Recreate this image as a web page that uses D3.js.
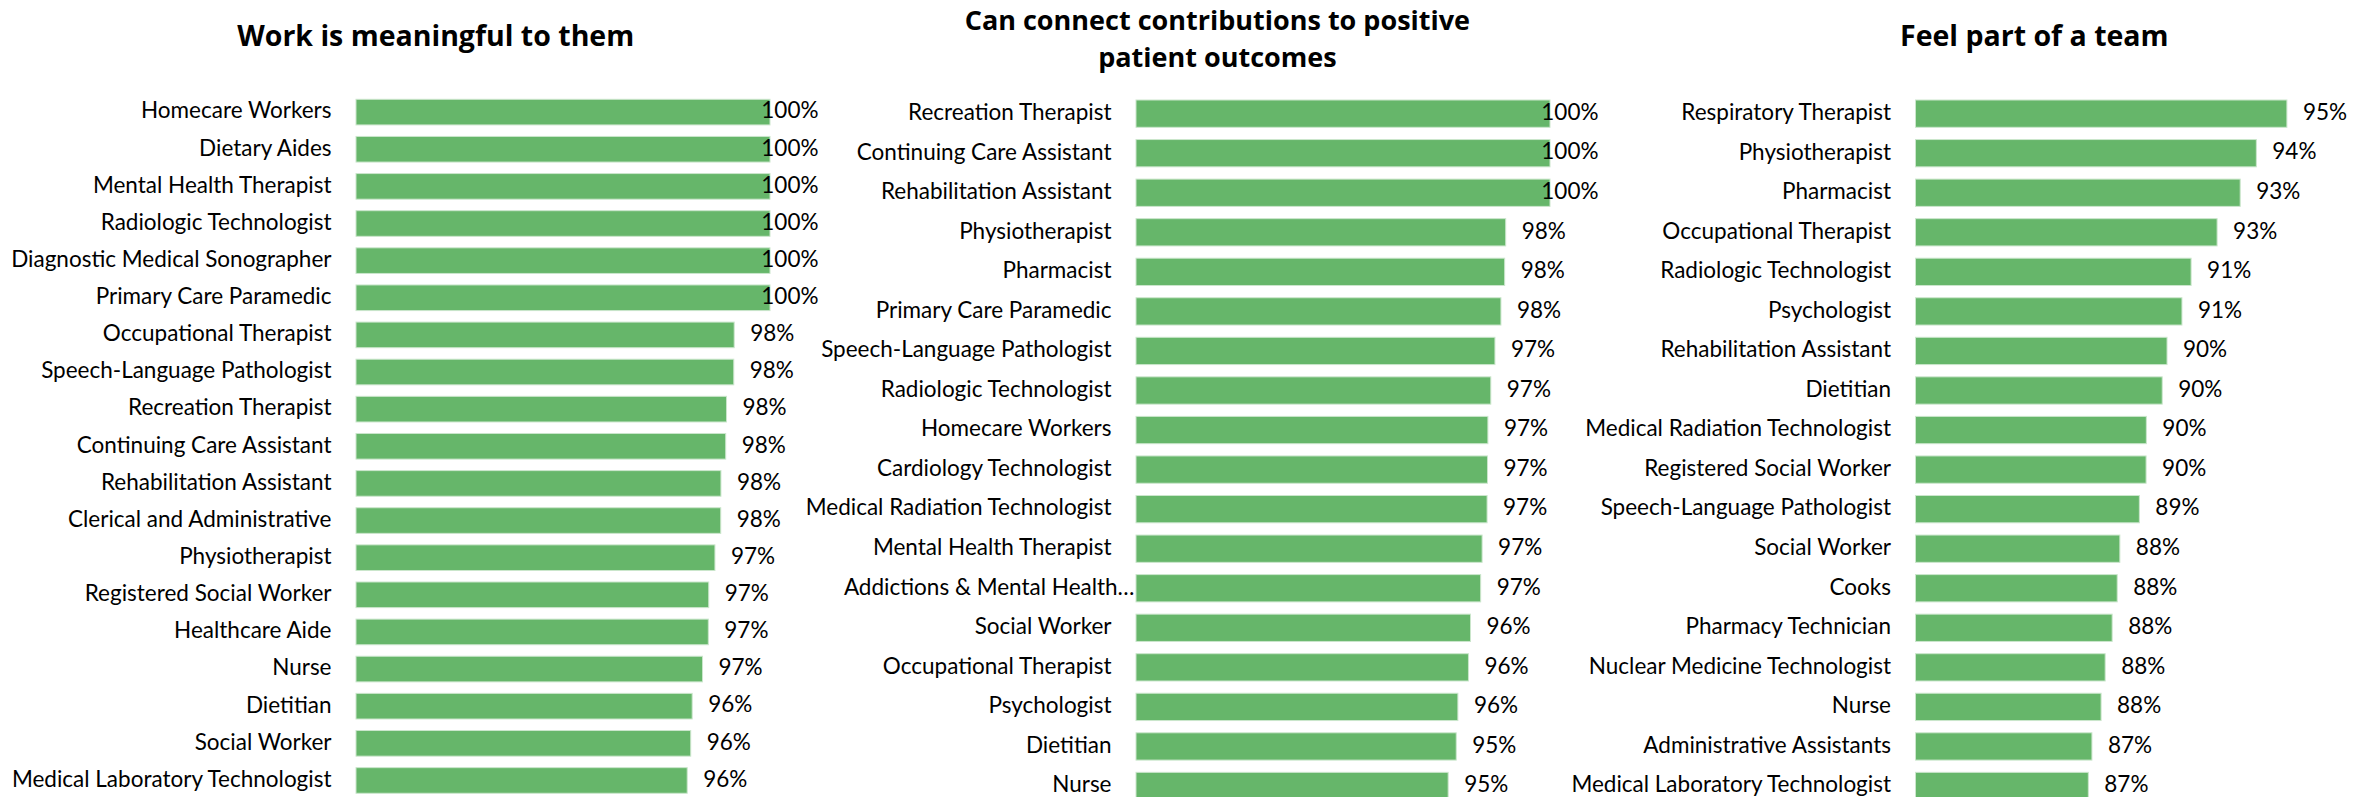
<!DOCTYPE html>
<html>
<head>
<meta charset="utf-8">
<script src="https://cdn.jsdelivr.net/npm/d3@7"></script>
<style>
  html, body { margin: 0; padding: 0; background: #ffffff; }
  svg { display: block; }
</style>
</head>
<body>
<svg id="chart" width="2371" height="797"></svg>
<script>
// ---- Data -------------------------------------------------------------
const meaningfulCategories = [
  "Homecare Workers", "Dietary Aides", "Mental Health Therapist", "Radiologic Technologist",
  "Diagnostic Medical Sonographer", "Primary Care Paramedic", "Occupational Therapist",
  "Speech-Language Pathologist", "Recreation Therapist", "Continuing Care Assistant",
  "Rehabilitation Assistant", "Clerical and Administrative", "Physiotherapist",
  "Registered Social Worker", "Healthcare Aide", "Nurse", "Dietitian", "Social Worker",
  "Medical Laboratory Technologist"
];
const meaningfulValues = [
  1.000, 1.000, 1.000, 1.000, 1.000, 1.000, 0.9827, 0.9825, 0.9790, 0.9786,
  0.9763, 0.9762, 0.9734, 0.9704, 0.9702, 0.9674, 0.9624, 0.9617, 0.9600
];

const outcomesCategories = [
  "Recreation Therapist", "Continuing Care Assistant", "Rehabilitation Assistant",
  "Physiotherapist", "Pharmacist", "Primary Care Paramedic", "Speech-Language Pathologist",
  "Radiologic Technologist", "Homecare Workers", "Cardiology Technologist",
  "Medical Radiation Technologist", "Mental Health Therapist", "Addictions & Mental Health…",
  "Social Worker", "Occupational Therapist", "Psychologist", "Dietitian", "Nurse"
];
const outcomesValues = [
  1.000, 1.000, 1.000, 0.9786, 0.9781, 0.9763, 0.9734, 0.9714, 0.9700, 0.9698,
  0.9696, 0.9672, 0.9665, 0.9616, 0.9606, 0.9555, 0.9547, 0.9508
];

const teamCategories = [
  "Respiratory Therapist", "Physiotherapist", "Pharmacist", "Occupational Therapist",
  "Radiologic Technologist", "Psychologist", "Rehabilitation Assistant", "Dietitian",
  "Medical Radiation Technologist", "Registered Social Worker", "Speech-Language Pathologist",
  "Social Worker", "Cooks", "Pharmacy Technician", "Nuclear Medicine Technologist", "Nurse",
  "Administrative Assistants", "Medical Laboratory Technologist"
];
const teamValues = [
  0.9543, 0.9416, 0.9349, 0.9253, 0.9145, 0.9107, 0.9045, 0.9025, 0.8959, 0.8958,
  0.8930, 0.8849, 0.8838, 0.8817, 0.8788, 0.8771, 0.8733, 0.8718
];

const panelTitles = [
  ["Work is meaningful to them"],
  ["Can connect contributions to positive", "patient outcomes"],
  ["Feel part of a team"]
];

// value axis bounds of each panel (axis starts at 80%)
const axisMin = 0.8;
const axisMax = [1.0, 1.0, 0.972];

// ---- Layout -----------------------------------------------------------
const FONT = "Lato, 'Open Sans', 'Liberation Sans', sans-serif";
const TITLE_FONT = "'Open Sans', Lato, 'Liberation Sans', sans-serif";
const BAR_COLOR = "#66b66a";
const BAR_EDGE = "#cbe6cc";
const PLOT_W = 414;

const layout = [
  { x0: 356.0,  titleX: 435.7,  titleY: [45.7],       titleSize: 28.5, bandTop: 93.55, step: 37.13 },
  { x0: 1136.0, titleX: 1217.4, titleY: [29.5, 66.5], titleSize: 27,   bandTop: 93.87, step: 39.55 },
  { x0: 1915.5, titleX: 2034.3, titleY: [45.7],       titleSize: 28.5, bandTop: 93.87, step: 39.55 }
];

const series = [
  { cats: meaningfulCategories, vals: meaningfulValues },
  { cats: outcomesCategories,   vals: outcomesValues },
  { cats: teamCategories,       vals: teamValues }
];

const svg = d3.select("#chart");
svg.append("rect").attr("width", 2371).attr("height", 797).attr("fill", "#ffffff");

const pct = d3.format(".0%");

series.forEach((s, i) => {
  const L = layout[i];
  const data = s.cats.map((c, k) => ({ cat: c, val: s.vals[k] }));

  const x = d3.scaleLinear()
    .domain([axisMin, axisMax[i]])
    .range([L.x0, L.x0 + PLOT_W]);

  const y = d3.scaleBand()
    .domain(s.cats)
    .range([L.bandTop, L.bandTop + s.cats.length * L.step])
    .paddingInner(0.31)
    .paddingOuter(0.155);

  const g = svg.append("g").attr("class", "panel");

  // title, one text element per line
  panelTitles[i].forEach((line, k) => {
    g.append("text")
      .attr("class", "title")
      .attr("text-anchor", "middle")
      .attr("font-family", TITLE_FONT)
      .attr("font-weight", 700)
      .attr("font-size", L.titleSize)
      .attr("fill", "#000")
      .attr("x", L.titleX)
      .attr("y", L.titleY[k])
      .text(line);
  });

  // bars
  g.selectAll("rect.bar")
    .data(data)
    .join("rect")
    .attr("class", "bar")
    .attr("x", x(axisMin))
    .attr("y", d => y(d.cat))
    .attr("width", d => x(d.val) - x(axisMin))
    .attr("height", y.bandwidth())
    .attr("fill", BAR_COLOR)
    .attr("stroke", BAR_EDGE)
    .attr("stroke-width", 1);

  // category axis (labels only)
  const axis = d3.axisLeft(y).tickSize(0).tickPadding(24.5);
  const ax = g.append("g")
    .attr("transform", `translate(${x(axisMin)},0)`)
    .call(axis);
  ax.select(".domain").remove();
  ax.selectAll(".tick text")
    .attr("font-family", FONT)
    .attr("font-size", 22.5)
    .attr("fill", "#000")
    .attr("dy", "0.28em")
    .attr("dx", d => d.endsWith("…") ? 23 : 0);

  // value labels
  const limit = x.range()[1] + 48.5;
  g.selectAll("text.value")
    .data(data)
    .join("text")
    .attr("class", "value")
    .attr("font-family", FONT)
    .attr("font-size", 22.5)
    .attr("fill", "#000")
    .attr("y", d => y(d.cat) + y.bandwidth() / 2)
    .attr("dy", "0.28em")
    .text(d => pct(d.val))
    .attr("x", function (d) {
      const w = this.getComputedTextLength();
      return Math.min(x(d.val) + 16, limit - w);
    });
});
</script>
</body>
</html>
